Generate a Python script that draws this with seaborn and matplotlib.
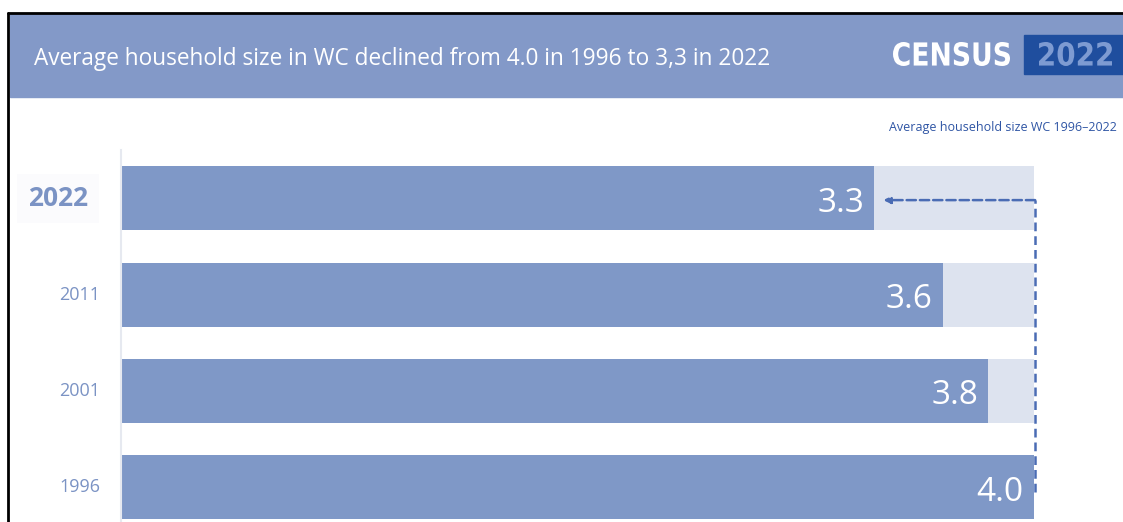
import matplotlib.pyplot as plt
import matplotlib.patches as mpatches
from matplotlib.textpath import TextPath
from matplotlib.font_manager import FontProperties
from matplotlib.transforms import Affine2D, IdentityTransform
import seaborn as sns
import pandas as pd

# data
years = ['2022', '2011', '2001', '1996']
hh_size = [3.3, 3.6, 3.8, 4.0]
title = 'Average household size in WC declined from 4.0 in 1996 to 3,3 in 2022'
subtitle = 'Average household size WC 1996\u20132022'

df = pd.DataFrame({'year': years, 'size': hh_size})
df['full'] = df['size'].max()

sns.set_style('white')
plt.rcParams['font.family'] = ['Open Sans', 'DejaVu Sans']

bar_col = '#7F98C7'
back_col = '#DDE3EF'
head_col = '#8399C8'
dash_col = '#4A6CB4'

W, H = 1123, 522
fig = plt.figure(figsize=(W / 100, H / 100), dpi=100)


def squeezed_text(s, x0, x1, ytop, ybot, color, zorder=3):
    # draw text as a path stretched into a pixel box (condensed logo lettering)
    tp = TextPath((0, 0), s, size=50, prop=FontProperties(family='DejaVu Sans', weight='bold'))
    ext = tp.get_extents()
    sx = (x1 - x0) / ext.width
    sy = (ybot - ytop) / ext.height
    tr = Affine2D().translate(-ext.x0, -ext.y0).scale(sx, sy).translate(x0, H - ybot)
    fig.patches.append(mpatches.PathPatch(tr.transform_path(tp), transform=IdentityTransform(),
                                          facecolor=color, edgecolor='none', zorder=zorder))


# header band + black frame
fig.patches.append(mpatches.Rectangle((10 / W, 1 - 97 / H), 1, 83 / H, transform=fig.transFigure,
                                      color=head_col, zorder=0))
fig.lines.append(plt.Line2D([8 / W, 1], [1 - 13 / H] * 2, transform=fig.transFigure, color='black', lw=2))
fig.lines.append(plt.Line2D([8 / W] * 2, [0, 1 - 13 / H], transform=fig.transFigure, color='black', lw=2))

fig.text(34 / W, 1 - 59 / H, title, color='white', fontsize=16.3, va='center', ha='left')

# logo
squeezed_text('CENSUS', 893, 1010, 42, 66, 'white')
fig.patches.append(mpatches.Rectangle((1024 / W, 1 - 74 / H), 110 / W, 39 / H, transform=fig.transFigure,
                                      color='#1F4E9E', zorder=1))
squeezed_text('2022', 1039, 1112, 42, 66, '#7E9BD2')

fig.text(1117 / W, 1 - 127 / H, subtitle, color='#2F55A4', fontsize=9, ha='right', va='center')

ax = fig.add_axes([121 / W, 0, (W - 121) / W, (522 - 150) / H])
sns.barplot(data=df, x='full', y='year', order=years, color=back_col, width=0.665,
            saturation=1, linewidth=0, ax=ax)
sns.barplot(data=df, x='size', y='year', order=years, color=bar_col, width=0.665,
            saturation=1, linewidth=0, ax=ax)

ax.set_xlim(0, (W - 121) / 228.25)
ax.set_ylim(3.36, -0.5)
ax.set_xlabel('')
ax.set_ylabel('')
ax.set_xticks([])
for s in ['top', 'right', 'bottom']:
    ax.spines[s].set_visible(False)
ax.spines['left'].set_color('#E6E9F0')
ax.spines['left'].set_linewidth(1.5)
ax.tick_params(axis='y', length=0)
ax.set_yticklabels([])

for i, (y, v) in enumerate(zip(years, hh_size)):
    ax.text(v - 0.045, i + 0.05, f'{v:.1f}', color='white', fontsize=24, ha='right', va='center')
    if i == 0:
        ax.text(-0.145, i, y, color='#7B93C4', fontsize=19, fontweight='bold', ha='right', va='center',
                bbox=dict(facecolor='#FBFBFD', edgecolor='none', pad=8))
    else:
        ax.text(-0.09, i, y, color='#7B93C4', fontsize=13, ha='right', va='center')

# dashed arrow from 1996 up to 2022
top = df['size'].iloc[0]
xr = df['full'].iloc[0] + 0.005
ax.plot([xr, xr], [3.05, 0.02], color=dash_col, ls='--', lw=1.8, dashes=(3.5, 2), clip_on=False)
ax.annotate('', xy=(top + 0.04, 0.02), xytext=(xr, 0.02),
            arrowprops=dict(arrowstyle='-|>', color=dash_col, lw=1.8, ls='--',
                            mutation_scale=10, shrinkA=0, shrinkB=0))

fig.savefig('out.png', dpi=100)
